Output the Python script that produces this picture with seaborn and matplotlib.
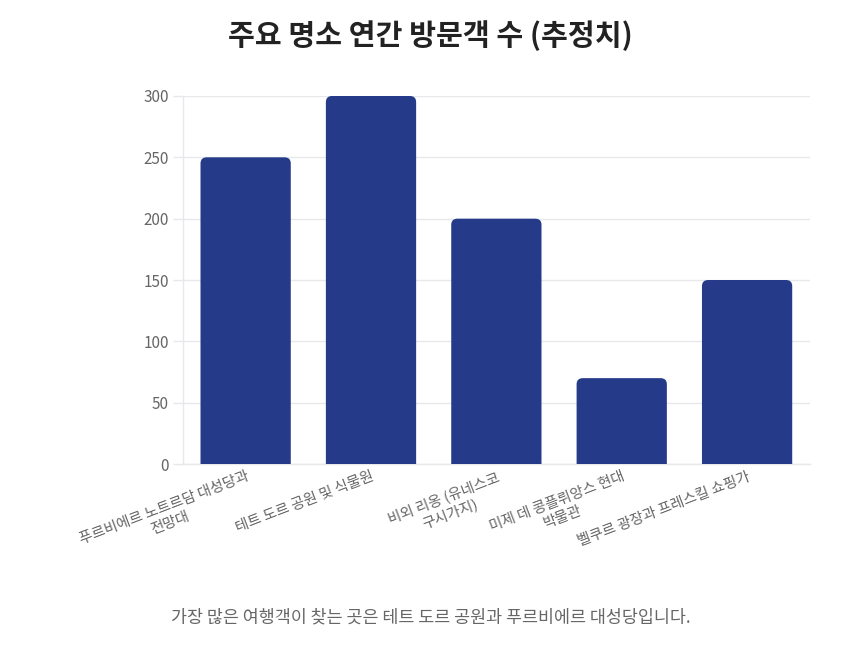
import matplotlib
matplotlib.use('Agg')
import matplotlib.pyplot as plt
from matplotlib.patches import PathPatch
from matplotlib.path import Path
import seaborn as sns
import pandas as pd

# 데이터
places = ['푸르비에르 노트르담 대성당과\n전망대', '테트 도르 공원 및 식물원',
          '비외 리옹 (유네스코\n구시가지)', '미제 데 콩플뤼앙스 현대\n박물관',
          '벨쿠르 광장과 프레스킬 쇼핑가']
visitors = [250, 300, 200, 70, 150]
y_ticks = [0, 50, 100, 150, 200, 250, 300]

df = pd.DataFrame({'place': places, 'visitors': visitors})

sns.set_theme(style='white')
plt.rcParams['font.family'] = ['Noto Sans CJK KR', 'DejaVu Sans']

bar_color = '#263a8a'
grid_color = '#e6e8ec'
text_color = '#666666'

fig = plt.figure(figsize=(8.61, 6.52), dpi=100)
ax = fig.add_axes([0.2125, 0.2883, 0.728, 0.5645])

sns.barplot(data=df, x='place', y='visitors', color=bar_color, width=0.72,
            saturation=1, ax=ax, zorder=3)

# 막대 윗부분만 둥글게 (모서리 약 6px)
rx, ry = 0.05, 5.0
for p in list(ax.patches):
    x0, w, h = p.get_x(), p.get_width(), p.get_height()
    x1 = x0 + w
    verts = [(x0, 0), (x0, h - ry), (x0, h), (x0 + rx, h), (x1 - rx, h),
             (x1, h), (x1, h - ry), (x1, 0), (x0, 0)]
    codes = [Path.MOVETO, Path.LINETO, Path.CURVE3, Path.CURVE3, Path.LINETO,
             Path.CURVE3, Path.CURVE3, Path.LINETO, Path.CLOSEPOLY]
    p.remove()
    ax.add_patch(PathPatch(Path(verts, codes), fc=bar_color, ec='none', zorder=3))

ax.set_ylim(0, 300)
ax.set_xlim(-0.5, len(places) - 0.5)
ax.set_yticks(y_ticks)
ax.yaxis.grid(True, color=grid_color, linewidth=1, zorder=0)
ax.set_axisbelow(True)
ax.set_xlabel('')
ax.set_ylabel('')

for side in ['top', 'right']:
    ax.spines[side].set_visible(False)
for side in ['left', 'bottom']:
    ax.spines[side].set_color(grid_color)
    ax.spines[side].set_linewidth(1)

ax.tick_params(axis='y', colors=grid_color, labelcolor=text_color, labelsize=11,
               length=7, width=1, left=True, pad=3)
ax.tick_params(axis='x', colors=grid_color, labelcolor=text_color, labelsize=10.5,
               length=0, pad=4)
ax.set_xticks(range(len(places)))
ax.set_xticklabels(places, rotation=21, ha='right', rotation_mode='anchor',
                   multialignment='center')

fig.text(0.5, 0.945, '주요 명소 연간 방문객 수 (추정치)', ha='center', va='center',
         fontsize=21, fontweight='bold', color='#222222')
fig.text(0.5, 0.053, '가장 많은 여행객이 찾는 곳은 테트 도르 공원과 푸르비에르 대성당입니다.',
         ha='center', va='center', fontsize=12.5, color=text_color)

fig.savefig('out.png', dpi=100, facecolor='white')
